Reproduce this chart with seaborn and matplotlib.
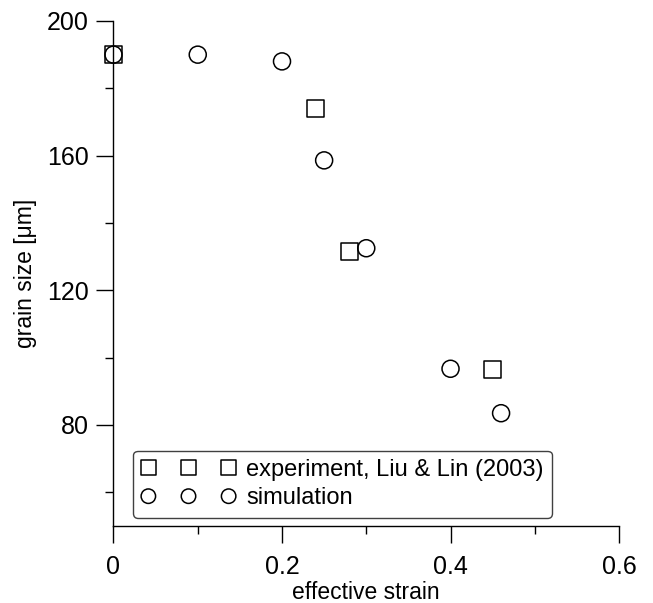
import matplotlib
matplotlib.use("Agg")
import matplotlib.pyplot as plt
import pandas as pd
import seaborn as sns
from matplotlib.ticker import MultipleLocator

# experiment (Liu & Lin 2003)
exp_strain = [0.0, 0.24, 0.28, 0.45]
exp_grain = [190, 174, 131.5, 96.6]

# simulation
sim_strain = [0.0, 0.10, 0.20, 0.25, 0.30, 0.40, 0.46]
sim_grain = [190, 190, 188, 158.6, 132.5, 96.7, 83.5]

x_ticks = [0, 0.2, 0.4, 0.6]
x_labels = ["0", "0.2", "0.4", "0.6"]
y_ticks = [80, 120, 160, 200]

exp_df = pd.DataFrame({"strain": exp_strain, "grain": exp_grain})
sim_df = pd.DataFrame({"strain": sim_strain, "grain": sim_grain})

sns.set_style("ticks")
plt.rcParams["font.family"] = ["Liberation Sans", "DejaVu Sans"]
plt.rcParams["text.color"] = "black"
plt.rcParams["axes.labelcolor"] = "black"
plt.rcParams["xtick.color"] = "black"
plt.rcParams["ytick.color"] = "black"

fig = plt.figure(figsize=(6.53, 6.03), dpi=100)
ax = fig.add_axes([0.1738, 0.1277, 0.7742, 0.8375])

sns.scatterplot(data=exp_df, x="strain", y="grain", ax=ax, marker="s", s=150,
                facecolor="none", edgecolor="black", linewidth=1.1,
                label="experiment, Liu & Lin (2003)", clip_on=False, zorder=3)
sns.scatterplot(data=sim_df, x="strain", y="grain", ax=ax, marker="o", s=150,
                facecolor="none", edgecolor="black", linewidth=1.1,
                label="simulation", clip_on=False, zorder=4)

ax.set_xlim(0, 0.6)
ax.set_ylim(50, 200)
ax.set_xticks(x_ticks, x_labels)
ax.set_yticks(y_ticks)
ax.xaxis.set_minor_locator(MultipleLocator(0.1))
ax.yaxis.set_minor_locator(MultipleLocator(20))

sns.despine(ax=ax)
for sp in ["left", "bottom"]:
    ax.spines[sp].set_color("black")
    ax.spines[sp].set_linewidth(1.0)
ax.tick_params(which="major", direction="out", length=12, width=1.0,
               color="black", labelcolor="black", labelsize=18)
ax.tick_params(axis="y", which="major", pad=6)
ax.tick_params(axis="x", which="major", pad=9)
ax.tick_params(which="minor", direction="out", length=6, width=1.0,
               color="black")

ax.set_xlabel("effective strain", fontsize=16.5, labelpad=1, color="black")
ax.set_ylabel("grain size [\u03bcm]", fontsize=16.5, labelpad=7, color="black")

leg = ax.legend(loc="lower left", bbox_to_anchor=(0.0386, 0.0164),
                borderaxespad=0, scatterpoints=3, scatteryoffsets=[0.5],
                markerscale=0.85, handlelength=4.0, handletextpad=0.45,
                fontsize=17, frameon=True, fancybox=True,
                edgecolor="#404040", labelspacing=0.28, borderpad=0.35)
leg.get_frame().set_linewidth(1.0)
leg.get_frame().set_alpha(1)
for t in leg.get_texts():
    t.set_color("black")

fig.savefig("out.png", dpi=100)
